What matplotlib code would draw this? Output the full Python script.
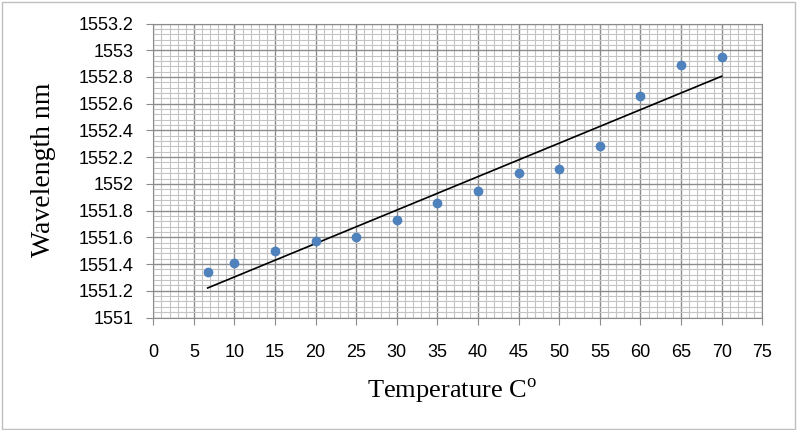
import numpy as np
from matplotlib import pyplot as plt
from matplotlib.patches import Rectangle
from matplotlib.ticker import MultipleLocator

# temperature (C) and measured wavelength (nm)
temperature = [6.7, 10, 15, 20, 25, 30, 35, 40, 45, 50, 55, 60, 65, 70]
wavelength = [1551.34, 1551.41, 1551.50, 1551.57, 1551.60, 1551.73, 1551.86,
              1551.95, 1552.08, 1552.11, 1552.28, 1552.66, 1552.89, 1552.95]

x_ticks = list(range(0, 80, 5))
y_ticks = [1551, 1551.2, 1551.4, 1551.6, 1551.8, 1552, 1552.2, 1552.4,
           1552.6, 1552.8, 1553, 1553.2]
y_labels = ["1551", "1551.2", "1551.4", "1551.6", "1551.8", "1552", "1552.2",
            "1552.4", "1552.6", "1552.8", "1553", "1553.2"]

fig = plt.figure(figsize=(7.97, 4.30), dpi=100)
ax = fig.add_axes([0.1923, 0.2616, 0.7641, 0.6837])

# linear trendline
coef = np.polyfit(temperature, wavelength, 1)
tx = np.array([min(temperature), max(temperature)])
ax.plot(tx, np.polyval(coef, tx), color="black", lw=1.2, zorder=3)

ax.scatter(temperature, wavelength, s=36, color="#4f81bd", zorder=4)

ax.set_xlim(0, 75)
ax.set_ylim(1551, 1553.2)
ax.set_xticks(x_ticks)
ax.set_xticklabels([str(t) for t in x_ticks])
ax.set_yticks(y_ticks)
ax.set_yticklabels(y_labels)
ax.xaxis.set_minor_locator(MultipleLocator(1))
ax.yaxis.set_minor_locator(MultipleLocator(0.04))

ax.grid(which="major", color="#8c8c8c", lw=1.0)
ax.grid(which="minor", color="#c4c4c4", lw=0.8)
ax.set_axisbelow(True)

for s in ax.spines.values():
    s.set_color("#8c8c8c")
ax.tick_params(which="major", direction="out", length=5, color="#8c8c8c",
               labelsize=13)
ax.tick_params(axis="x", pad=14)
ax.tick_params(axis="y", pad=9)
ax.tick_params(which="minor", length=0)
for lab in ax.get_xticklabels() + ax.get_yticklabels():
    lab.set_fontfamily("Liberation Sans")

ax.set_xlabel("Temperature C$^{\\mathregular{o}}$", fontfamily="Liberation Serif",
              fontsize=19, va="center")
ax.set_ylabel("Wavelength nm", fontfamily="Liberation Serif", fontsize=20,
              va="center")
ax.xaxis.set_label_coords(0.49, -0.253)
ax.yaxis.set_label_coords(-0.1795, 0.502)

fig.patches.append(Rectangle((0.002, 0.003), 0.995, 0.993, transform=fig.transFigure,
                             fill=False, edgecolor="#bfbfbf", lw=1))

fig.savefig("out.png", dpi=100)
